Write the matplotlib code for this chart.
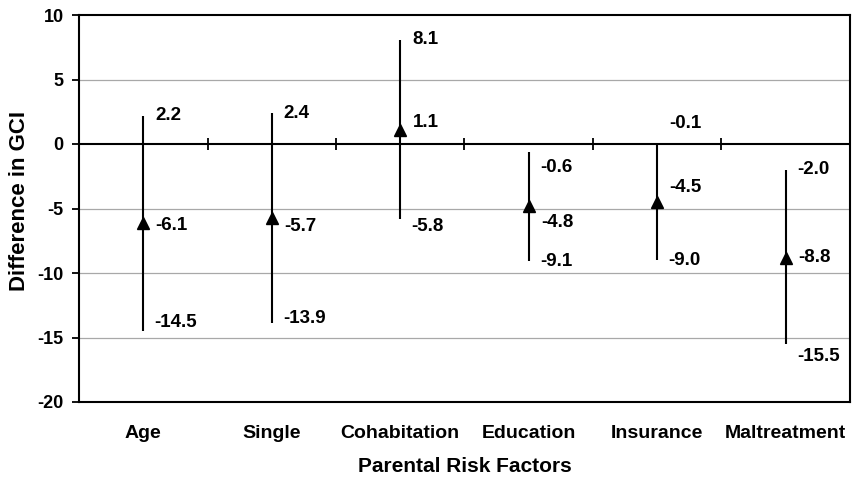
import matplotlib
matplotlib.use("Agg")
import matplotlib.pyplot as plt

plt.rcParams['font.family'] = ['Liberation Sans', 'DejaVu Sans']
plt.rcParams['font.weight'] = 'bold'
plt.rcParams['axes.unicode_minus'] = False

# Parental risk factors and their difference in GCI (point estimate and 95% CI)
factors = ["Age", "Single", "Cohabitation", "Education", "Insurance", "Maltreatment"]
estimate = [-6.1, -5.7, 1.1, -4.8, -4.5, -8.8]
upper = [2.2, 2.4, 8.1, -0.6, -0.1, -2.0]
lower = [-14.5, -13.9, -5.8, -9.1, -9.0, -15.5]

# vertical nudges (in data units) so value labels don't collide
nudge_upper = [0.0, 0.0, 0.0, -1.2, 1.7, 0.0]
nudge_est = [-0.2, -0.7, 0.6, -1.3, 1.1, 0.0]
nudge_lower = [0.7, 0.4, -0.6, 0.0, 0.0, -1.0]

fig = plt.figure(figsize=(8.54, 4.8), dpi=100)
ax = fig.add_axes([79 / 854, 1 - 402 / 480, 771 / 854, 387 / 480])

x = list(range(len(factors)))

# light horizontal gridlines
for gy in [5, -5, -10, -15]:
    ax.axhline(gy, color="#a8a8a8", lw=0.9, zorder=0)

# zero reference line with category separators
ax.axhline(0, color="black", lw=1.5, zorder=1)
ax.plot([i + 0.5 for i in x[:-1]], [0] * (len(x) - 1), ls="none",
        marker="|", ms=9, mew=1.3, color="black", zorder=2)

# confidence intervals and estimates
ax.vlines(x, lower, upper, color="black", lw=1.5, zorder=3)
ax.plot(x, estimate, ls="none", marker="^", ms=8.5, color="black", zorder=4)

lab_kw = dict(fontsize=13.5, fontweight="bold", ha="left", va="center",
              textcoords="offset points", zorder=5)
for i in x:
    ax.annotate(f"{upper[i]:.1f}", (i, upper[i] + nudge_upper[i]),
                xytext=(8.5, 0), **lab_kw)
    ax.annotate(f"{estimate[i]:.1f}", (i, estimate[i] + nudge_est[i]),
                xytext=(9, 0), **lab_kw)
    ax.annotate(f"{lower[i]:.1f}", (i, lower[i] + nudge_lower[i]),
                xytext=(8, 0), **lab_kw)

ax.set_xlim(-0.5, len(factors) - 0.5)
ax.set_ylim(-20, 10)
ax.set_yticks([10, 5, 0, -5, -10, -15, -20])
ax.set_xticks(x)
ax.set_xticklabels(factors, fontsize=14, fontweight="bold")
ax.tick_params(axis="x", length=0, pad=16.5)
ax.tick_params(axis="y", length=5, width=1.3, direction="out", pad=6,
               labelsize=13)
for lab in ax.get_yticklabels():
    lab.set_fontweight("bold")

for sp in ax.spines.values():
    sp.set_linewidth(1.5)
    sp.set_color("black")

ax.set_xlabel("Parental Risk Factors", fontsize=15, fontweight="bold",
              labelpad=11)
fig.text(30 / 854, 1 - 201 / 480, "Difference in GCI", rotation=90,
         ha="right", va="center", fontsize=16, fontweight="bold")

fig.savefig("out.png", dpi=100, facecolor="white")
